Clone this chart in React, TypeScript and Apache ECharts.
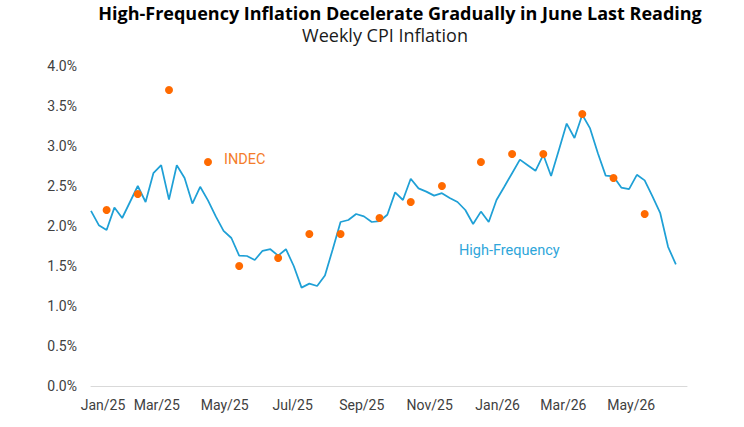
import React, { useEffect, useRef } from "react";
import * as echarts from "echarts";

// Daily date axis, starting on the first weekly reading
const AXIS_START = "2025-01-01";
const AXIS_DAYS = 536;

// Weekly high-frequency CPI inflation (% m/m), one value per week from AXIS_START
const weeklyHF = [
  2.19, 2.01, 1.95, 2.23, 2.1, 2.3, 2.5, 2.3, 2.66, 2.76, 2.33, 2.76, 2.6, 2.28, 2.49, 2.32,
  2.12, 1.94, 1.85, 1.63, 1.625, 1.575, 1.69, 1.71, 1.63, 1.71, 1.5, 1.23, 1.28, 1.25, 1.38,
  1.71, 2.05, 2.075, 2.15, 2.12, 2.05, 2.06, 2.14, 2.42, 2.325, 2.59, 2.47, 2.43, 2.38, 2.41,
  2.35, 2.3, 2.2, 2.025, 2.18, 2.05, 2.325, 2.49, 2.66, 2.83, 2.76, 2.69, 2.89, 2.625, 2.95,
  3.28, 3.1, 3.39, 3.22, 2.91, 2.63, 2.62, 2.48, 2.46, 2.64, 2.57, 2.37, 2.16, 1.74, 1.52,
];

// Official INDEC monthly prints, placed on their release weeks
const indecDates = [
  "2025-01-15", "2025-02-12", "2025-03-12", "2025-04-16", "2025-05-14", "2025-06-18",
  "2025-07-16", "2025-08-13", "2025-09-17", "2025-10-15", "2025-11-12", "2025-12-17",
  "2026-01-14", "2026-02-11", "2026-03-18", "2026-04-15", "2026-05-13",
];
const indecValues = [
  2.2, 2.4, 3.7, 2.8, 1.5, 1.6, 1.9, 1.9, 2.1, 2.3, 2.5, 2.8, 2.9, 2.9, 3.4, 2.6, 2.15,
];

const monthNames = ["Jan", "Feb", "Mar", "Apr", "May", "Jun", "Jul", "Aug", "Sep", "Oct", "Nov", "Dec"];
const yTicks = { min: 0, max: 4, step: 0.5 };

const BLUE = "#1fa0d6";
const ORANGE = "#ff6a00";
const FONT = "Roboto, 'Liberation Sans', sans-serif";
const TITLE_FONT = "'Open Sans', Roboto, sans-serif";

function buildDays(): string[] {
  const start = Date.parse(AXIS_START + "T00:00:00Z");
  const out: string[] = [];
  for (let d = 0; d < AXIS_DAYS; d++) {
    out.push(new Date(start + d * 86400000).toISOString().slice(0, 10));
  }
  return out;
}

export default function App() {
  const ref = useRef<HTMLDivElement>(null);

  useEffect(() => {
    if (!ref.current) return;
    const chart = echarts.init(ref.current, undefined, { renderer: "svg" });
    const days = buildDays();

    const hfData = weeklyHF.map((v, k) => [days[k * 7], v]);
    const indecData = indecDates.map((d, i) => [d, indecValues[i]]);

    const isLabelDay = (value: string) => {
      const m = Number(value.slice(5, 7));
      return value.slice(8, 10) === "01" && m % 2 === 1;
    };

    chart.setOption({
      animation: false,
      backgroundColor: "#ffffff",
      textStyle: { fontFamily: FONT },
      grid: { left: 91, right: 57, top: 66, bottom: 41, containLabel: false },
      graphic: [
        {
          type: "text",
          x: 400,
          y: 13,
          style: {
            text: "High-Frequency Inflation Decelerate Gradually in June Last Reading",
            font: `bold 18px ${TITLE_FONT}`,
            fill: "#000000",
            textAlign: "center",
            textVerticalAlign: "middle",
          },
        },
        {
          type: "text",
          x: 385,
          y: 35,
          style: {
            text: "Weekly CPI Inflation",
            font: `18px ${TITLE_FONT}`,
            fill: "#1a1a1a",
            textAlign: "center",
            textVerticalAlign: "middle",
          },
        },
        {
          type: "text",
          x: 224,
          y: 159,
          style: {
            text: "INDEC",
            font: `14.5px ${FONT}`,
            fill: "#f47c2a",
            textAlign: "left",
            textVerticalAlign: "middle",
          },
        },
        {
          type: "text",
          x: 459,
          y: 250,
          style: {
            text: "High-Frequency",
            font: `14.5px ${FONT}`,
            fill: "#2ea6da",
            textAlign: "left",
            textVerticalAlign: "middle",
          },
        },
      ],
      xAxis: {
        type: "category",
        data: days,
        boundaryGap: false,
        axisLine: { show: true, lineStyle: { color: "#d9d9d9", width: 1 } },
        axisTick: { show: false },
        splitLine: { show: false },
        axisLabel: {
          interval: (_i: number, value: string) => isLabelDay(value),
          formatter: (value: string, index: number) => {
            const text = `${monthNames[Number(value.slice(5, 7)) - 1]}/${value.slice(2, 4)}`;
            return index === 0 ? `{first|${text}}` : text;
          },
          rich: {
            first: { padding: [0, 0, 0, 24], fontSize: 14, color: "#404040", fontFamily: FONT },
          },
          color: "#404040",
          fontSize: 14,
          fontFamily: FONT,
          margin: 12,
        },
      },
      yAxis: {
        type: "value",
        min: yTicks.min,
        max: yTicks.max,
        interval: yTicks.step,
        axisLine: { show: false },
        axisTick: { show: false },
        splitLine: { show: false },
        axisLabel: {
          formatter: (v: number) => `${v.toFixed(1)}%`,
          color: "#404040",
          fontSize: 14,
          fontFamily: FONT,
          margin: 14,
        },
      },
      series: [
        {
          name: "High-Frequency",
          type: "line",
          data: hfData,
          showSymbol: false,
          symbol: "none",
          lineStyle: { color: BLUE, width: 1.75 },
          z: 2,
        },
        {
          name: "INDEC",
          type: "scatter",
          data: indecData,
          symbol: "circle",
          symbolSize: 8,
          itemStyle: { color: ORANGE, opacity: 1 },
          z: 3,
        },
      ],
    });

    return () => chart.dispose();
  }, []);

  return (
    <div
      ref={ref}
      style={{ position: "absolute", left: 0, top: 0, width: 744, height: 427 }}
    />
  );
}
